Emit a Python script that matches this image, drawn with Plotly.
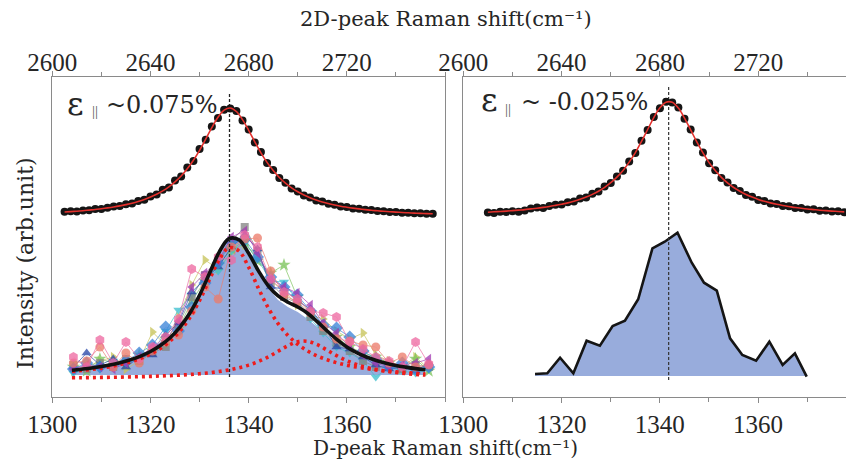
import plotly.graph_objects as go

# ---------------- 2D-peak spectra (top axes) ----------------
x2d_left = [2605, 2607.5, 2610, 2612.5, 2615, 2617.5, 2620, 2622.5, 2625, 2627.5,
            2630, 2632.5, 2635, 2637.5, 2640, 2642.5, 2645, 2647.5, 2650, 2652.5,
            2655, 2657.5, 2660, 2662.5, 2665, 2667.5, 2670, 2672.5, 2675, 2677.5,
            2680, 2682.5, 2685, 2687.5, 2690, 2692.5, 2695, 2697.5, 2700, 2702.5,
            2705, 2707.5, 2710, 2712.5, 2715, 2717.5, 2720, 2722.5, 2725, 2727.5,
            2730, 2732.5, 2735, 2737.5, 2740, 2742.5, 2745, 2747.5, 2750, 2752.5, 2755]
fit2d_left = [1.850, 1.854, 1.858, 1.863, 1.869, 1.875, 1.883, 1.891, 1.900, 1.911,
              1.924, 1.938, 1.955, 1.975, 1.999, 2.027, 2.061, 2.101, 2.151, 2.210,
              2.282, 2.368, 2.467, 2.579, 2.694, 2.797, 2.868, 2.890, 2.855, 2.774,
              2.667, 2.552, 2.442, 2.346, 2.264, 2.195, 2.138, 2.091, 2.052, 2.020,
              1.993, 1.970, 1.951, 1.935, 1.920, 1.908, 1.898, 1.889, 1.881, 1.874,
              1.867, 1.862, 1.857, 1.853, 1.849, 1.845, 1.842, 1.839, 1.836, 1.834, 1.832]
dots2d_left = [1.852, 1.858, 1.855, 1.866, 1.868, 1.879, 1.881, 1.893, 1.904, 1.909,
               1.928, 1.936, 1.960, 1.972, 2.006, 2.024, 2.072, 2.095, 2.165, 2.204,
               2.296, 2.360, 2.480, 2.572, 2.705, 2.790, 2.872, 2.885, 2.860, 2.766,
               2.675, 2.545, 2.450, 2.340, 2.270, 2.190, 2.142, 2.086, 2.056, 2.016,
               1.996, 1.966, 1.954, 1.932, 1.922, 1.905, 1.900, 1.886, 1.883, 1.872,
               1.869, 1.860, 1.858, 1.851, 1.850, 1.843, 1.843, 1.837, 1.837, 1.832, 1.833]

x2d_right = [2610, 2612.5, 2615, 2617.5, 2620, 2622.5, 2625, 2627.5, 2630, 2632.5,
             2635, 2637.5, 2640, 2642.5, 2645, 2647.5, 2650, 2652.5, 2655, 2657.5,
             2660, 2662.5, 2665, 2667.5, 2670, 2672.5, 2675, 2677.5, 2680, 2682.5,
             2685, 2687.5, 2690, 2692.5, 2695, 2697.5, 2700, 2702.5, 2705, 2707.5,
             2710, 2712.5, 2715, 2717.5, 2720, 2722.5, 2725, 2727.5, 2730, 2732.5,
             2735, 2737.5, 2740, 2742.5, 2745, 2747.5, 2750, 2752.5, 2755]
fit2d_right = [1.848, 1.852, 1.855, 1.859, 1.864, 1.869, 1.874, 1.881, 1.888, 1.896,
               1.905, 1.916, 1.928, 1.941, 1.958, 1.977, 1.999, 2.026, 2.058, 2.097,
               2.143, 2.199, 2.266, 2.349, 2.444, 2.556, 2.675, 2.794, 2.892, 2.948,
               2.947, 2.889, 2.789, 2.671, 2.551, 2.441, 2.344, 2.264, 2.196, 2.141,
               2.095, 2.057, 2.025, 1.999, 1.976, 1.957, 1.941, 1.927, 1.915, 1.905,
               1.895, 1.887, 1.880, 1.874, 1.868, 1.864, 1.859, 1.855, 1.851]
dots2d_right = [1.846, 1.840, 1.852, 1.850, 1.857, 1.852, 1.866, 1.885, 1.894, 1.890,
                1.910, 1.922, 1.925, 1.948, 1.955, 1.984, 1.995, 2.032, 2.055, 2.104,
                2.140, 2.206, 2.262, 2.356, 2.440, 2.562, 2.670, 2.800, 2.888, 2.952,
                2.945, 2.895, 2.783, 2.676, 2.545, 2.446, 2.338, 2.268, 2.190, 2.145,
                2.090, 2.060, 2.020, 2.003, 1.970, 1.960, 1.936, 1.930, 1.910, 1.908,
                1.890, 1.890, 1.876, 1.877, 1.863, 1.866, 1.855, 1.857, 1.848]

# ---------------- D-peak, left panel ----------------
D_grid = [1304, 1306, 1308, 1310, 1312, 1314, 1316, 1318, 1320, 1322, 1324, 1326, 1328,
          1330, 1332, 1334, 1336, 1338, 1340, 1342, 1344, 1346, 1348, 1350, 1352, 1354,
          1356, 1358, 1360, 1362, 1364, 1366, 1368, 1370, 1372, 1374, 1376]
D_fit_total = [0.267, 0.278, 0.290, 0.305, 0.323, 0.346, 0.374, 0.409, 0.455, 0.515, 0.593,
               0.699, 0.837, 1.018, 1.234, 1.449, 1.584, 1.573, 1.437, 1.261, 1.112, 1.011,
               0.948, 0.900, 0.838, 0.753, 0.660, 0.574, 0.501, 0.444, 0.400, 0.365, 0.338,
               0.316, 0.299, 0.284, 0.272]
D_comp1 = [0.255, 0.265, 0.276, 0.289, 0.306, 0.327, 0.353, 0.386, 0.429, 0.485, 0.559,
           0.660, 0.792, 0.965, 1.172, 1.374, 1.493, 1.461, 1.298, 1.086, 0.891, 0.734,
           0.616, 0.527, 0.461, 0.410, 0.372, 0.342, 0.318, 0.299, 0.284, 0.271, 0.261,
           0.252, 0.244, 0.238, 0.232]
D_comp2 = [0.192, 0.193, 0.194, 0.196, 0.197, 0.199, 0.201, 0.203, 0.206, 0.210, 0.214,
           0.219, 0.225, 0.233, 0.242, 0.255, 0.271, 0.292, 0.319, 0.355, 0.401, 0.457,
           0.513, 0.553, 0.557, 0.523, 0.468, 0.412, 0.363, 0.325, 0.296, 0.274, 0.258,
           0.245, 0.234, 0.226, 0.220]
D_mean_left = [0.267, 0.278, 0.290, 0.305, 0.323, 0.346, 0.374, 0.409, 0.455, 0.515, 0.593,
               0.699, 0.837, 1.018, 1.234, 1.449, 1.584, 1.573, 1.437, 1.261, 1.090, 0.970,
               0.900, 0.850, 0.780, 0.700, 0.620, 0.540, 0.470, 0.420, 0.380, 0.350, 0.330,
               0.310, 0.290, 0.280, 0.270]
fill_base_left = 0.22

D_pts = [1304.3, 1307.0, 1309.7, 1312.4, 1315.0, 1317.7, 1320.4, 1323.1, 1325.7, 1328.4,
         1331.1, 1333.8, 1336.5, 1339.2, 1341.8, 1344.5, 1347.2, 1349.9, 1352.6, 1355.2,
         1357.9, 1360.6, 1363.3, 1365.9, 1368.6, 1371.3, 1374.0, 1376.7]
map_pink = [0.40, 0.30, 0.57, 0.34, 0.55, 0.38, 0.50, 0.60, 0.78, 1.28, 1.20, 1.40, 1.37, 1.62,
            1.50, 1.18, 1.05, 0.98, 0.86, 0.84, 0.80, 0.55, 0.48, 0.40, 0.36, 0.30, 0.55, 0.33]
map_salmon = [0.34, 0.36, 0.50, 0.30, 0.44, 0.34, 0.46, 0.55, 0.62, 0.86, 1.10, 0.98, 1.50, 1.58,
              1.59, 1.26, 1.02, 0.95, 0.84, 0.70, 0.58, 0.56, 0.52, 0.50, 0.34, 0.40, 0.30, 0.32]
map_navy = [0.30, 0.44, 0.32, 0.38, 0.30, 0.40, 0.42, 0.62, 0.74, 1.05, 1.18, 1.30, 1.50, 1.62,
            1.48, 1.10, 1.08, 0.96, 0.88, 0.72, 0.50, 0.48, 0.40, 0.32, 0.28, 0.30, 0.26, 0.34]
map_olive = [0.26, 0.30, 0.36, 0.40, 0.28, 0.36, 0.65, 0.52, 0.80, 1.12, 1.37, 1.28, 1.45, 1.52,
             1.42, 1.16, 1.06, 0.92, 0.82, 0.78, 0.66, 0.58, 0.64, 0.42, 0.36, 0.30, 0.40, 0.28]
map_blue = [0.28, 0.34, 0.30, 0.32, 0.36, 0.44, 0.52, 0.70, 0.66, 0.90, 1.14, 1.34, 1.55, 1.58,
            1.40, 1.20, 1.10, 1.02, 0.86, 0.72, 0.69, 0.60, 0.46, 0.38, 0.30, 0.34, 0.28, 0.30]
map_gray = [0.32, 0.28, 0.34, 0.30, 0.38, 0.36, 0.44, 0.50, 0.72, 1.00, 1.22, 1.36, 1.56, 1.70,
            1.46, 1.14, 1.00, 0.94, 0.80, 0.66, 0.54, 0.46, 0.36, 0.30, 0.30, 0.28, 0.32, 0.30]
map_green = [0.30, 0.26, 0.38, 0.34, 0.32, 0.42, 0.46, 0.58, 0.68, 0.96, 1.16, 1.32, 1.48, 1.56,
             1.36, 1.24, 1.32, 1.00, 0.84, 0.68, 0.60, 0.50, 0.44, 0.40, 0.34, 0.28, 0.38, 0.26]
map_cyan = [0.24, 0.30, 0.28, 0.36, 0.34, 0.38, 0.44, 0.66, 0.87, 1.02, 1.20, 1.26, 1.46, 1.54,
            1.38, 1.16, 1.15, 0.96, 0.78, 0.64, 0.50, 0.44, 0.36, 0.20, 0.30, 0.26, 0.24, 0.28]
map_purple = [0.28, 0.32, 0.30, 0.28, 0.34, 0.40, 0.50, 0.56, 0.76, 1.10, 1.24, 1.36, 1.60, 1.66,
              1.44, 1.18, 1.10, 1.04, 0.92, 0.74, 0.64, 0.50, 0.42, 0.34, 0.30, 0.32, 0.34, 0.38]

peak_D_left = 1336.1
peak_line_left = [0.20, 3.04]

# ---------------- D-peak, right panel ----------------
D_right = [1314.6, 1317.1, 1319.7, 1322.4, 1325.1, 1327.8, 1330.4, 1332.9, 1335.6, 1338.5, 1341.0,
           1343.6, 1346.5, 1349.0, 1351.6, 1354.3, 1356.8, 1359.6, 1362.3, 1365.0, 1367.5, 1369.9]
I_right = [0.230, 0.237, 0.393, 0.237, 0.563, 0.513, 0.710, 0.763, 0.977, 1.487, 1.553,
           1.643, 1.343, 1.143, 1.063, 0.587, 0.420, 0.363, 0.553, 0.320, 0.437, 0.203]
fill_base_right = 0.21
peak_D_right = 1341.8
peak_line_right = [0.17, 3.10]

# ---------------- styles ----------------
SERIF = "Liberation Serif"
SERIF2 = "DejaVu Serif"
TXT = "#262626"
AXC = "#8a8a8a"
FILLC = "rgba(143,165,217,0.92)"
series = [
    (map_olive, "#c8c45a", "triangle-right", 9),
    (map_green, "#7cc45c", "star", 10),
    (map_cyan, "#3ec0cf", "triangle-down", 9),
    (map_gray, "#858585", "square", 8),
    (map_navy, "#2a48a8", "triangle-up", 9),
    (map_blue, "#3b84d8", "diamond", 10),
    (map_purple, "#a43cb2", "triangle-left", 9),
    (map_salmon, "#ec7c6c", "circle", 9),
    (map_pink, "#ee6aa2", "hexagon", 10),
]

fig = go.Figure()

# left panel blue fill
fig.add_trace(go.Scatter(x=D_grid, y=[fill_base_left] * len(D_grid), mode="lines",
                         line=dict(width=0), xaxis="x", yaxis="y", hoverinfo="skip"))
fig.add_trace(go.Scatter(x=D_grid, y=D_mean_left, mode="lines", fill="tonexty",
                         fillcolor=FILLC, line=dict(width=0), xaxis="x", yaxis="y"))

# mapping spectra
for vals, col, sym, sz in series:
    fig.add_trace(go.Scatter(x=D_pts, y=vals, mode="lines+markers",
                             line=dict(color=col, width=0.8),
                             marker=dict(symbol=sym, size=sz, color=col, opacity=0.9),
                             opacity=0.85, xaxis="x", yaxis="y"))

# Lorentzian components
for comp in (D_comp1, D_comp2):
    fig.add_trace(go.Scatter(x=D_grid, y=comp, mode="lines", line_shape="spline",
                             line=dict(color="#ee1c1c", width=3.6, dash="3px,4px"),
                             xaxis="x", yaxis="y"))
# total fit
fig.add_trace(go.Scatter(x=D_grid, y=D_fit_total, mode="lines", line_shape="spline",
                         line=dict(color="#111111", width=3.6), xaxis="x", yaxis="y"))
# dashed peak line left
fig.add_trace(go.Scatter(x=[peak_D_left, peak_D_left], y=peak_line_left, mode="lines",
                         line=dict(color="#222222", width=1.3, dash="3px,2px"),
                         xaxis="x", yaxis="y"))

# 2D left
fig.add_trace(go.Scatter(x=x2d_left, y=dots2d_left, mode="markers",
                         marker=dict(color="#151515", size=8), xaxis="x3", yaxis="y"))
fig.add_trace(go.Scatter(x=x2d_left, y=fit2d_left, mode="lines", line_shape="spline",
                         line=dict(color="#e3302c", width=1.6), xaxis="x3", yaxis="y"))

# right panel fill
fig.add_trace(go.Scatter(x=D_right, y=[fill_base_right] * len(D_right), mode="lines",
                         line=dict(width=0), xaxis="x2", yaxis="y2", hoverinfo="skip"))
fig.add_trace(go.Scatter(x=D_right, y=I_right, mode="lines", fill="tonexty",
                         fillcolor=FILLC, line=dict(color="#151515", width=2.6),
                         xaxis="x2", yaxis="y2"))
fig.add_trace(go.Scatter(x=[peak_D_right, peak_D_right], y=peak_line_right, mode="lines",
                         line=dict(color="#333333", width=1.2, dash="3px,2px"),
                         xaxis="x2", yaxis="y2"))
# 2D right
fig.add_trace(go.Scatter(x=x2d_right, y=dots2d_right, mode="markers",
                         marker=dict(color="#151515", size=8), xaxis="x4", yaxis="y2"))
fig.add_trace(go.Scatter(x=x2d_right, y=fit2d_right, mode="lines", line_shape="spline",
                         line=dict(color="#e3302c", width=1.6), xaxis="x4", yaxis="y2"))

W, H = 846, 461
ydom = [1 - 397 / H, 1 - 77 / H]
xdomL = [52.3 / W, 445 / W]
xdomR = [463.3 / W, 1.0]
tickfont = dict(family=SERIF, size=25, color=TXT)

def xax(domain, rng, vals, minor_vals, side, anchor, overlay=None, standoff=0):
    d = dict(range=rng, tickmode="array", tickvals=vals,
             ticktext=[str(v) for v in vals], side=side, anchor=anchor,
             showline=True, linecolor=AXC, linewidth=1.4, ticks="outside",
             ticklen=5, tickwidth=1.2, tickcolor=AXC, showgrid=False, zeroline=False,
             tickfont=tickfont, automargin=False, ticklabelstandoff=standoff,
             minor=dict(tickvals=minor_vals, ticks="outside", ticklen=4, tickcolor=AXC,
                        tickwidth=1.1, showgrid=False))
    if overlay:
        d["overlaying"] = overlay
    else:
        d["domain"] = domain
    return d

fig.update_layout(
    width=W, height=H, margin=dict(l=0, r=0, t=0, b=0, pad=0),
    paper_bgcolor="white", plot_bgcolor="white", showlegend=False,
    xaxis=xax(xdomL, [1300, 1380], [1300, 1320, 1340, 1360], [1310, 1330, 1350, 1370, 1380],
              "bottom", "y"),
    xaxis3=xax(None, [2600, 2760], [2600, 2640, 2680, 2720], [2620, 2660, 2700, 2740, 2760],
               "top", "y", overlay="x", standoff=-10),
    xaxis2=xax(xdomR, [1300, 1377.9], [1300, 1320, 1340, 1360], [1310, 1330, 1350, 1370],
               "bottom", "y2"),
    xaxis4=xax(None, [2600, 2755.7], [2600, 2640, 2680, 2720], [2620, 2660, 2700, 2740],
               "top", "y2", overlay="x2", standoff=-10),
    yaxis=dict(domain=ydom, range=[0, 3.2], anchor="x", showticklabels=False, ticks="",
               showline=True, mirror=True, linecolor=AXC, linewidth=1.4, automargin=False,
               showgrid=False, zeroline=False),
    yaxis2=dict(domain=ydom, range=[0, 3.2], anchor="x2", showticklabels=False, ticks="",
                showline=True, linecolor=AXC, linewidth=1.4, showgrid=False, zeroline=False,
                automargin=False),
)

annots = [
    dict(text="D-peak Raman shift(cm⁻¹)", x=445 / W, y=1 - 448 / H,
         font=dict(family=SERIF2, size=20, color=TXT)),
    dict(text="2D-peak Raman shift(cm⁻¹)", x=446 / W, y=1 - 19 / H,
         font=dict(family=SERIF2, size=21, color=TXT)),
    dict(text="Intensity (arb.unit)", x=25 / W, y=1 - 263 / H, textangle=-90,
         font=dict(family=SERIF2, size=22, color=TXT)),
    # left strain label
    dict(text="ε", x=75 / W, y=1 - 104 / H, font=dict(family=SERIF2, size=32, color=TXT)),
    dict(text="||", x=95 / W, y=1 - 111 / H, font=dict(family=SERIF, size=15, color="#555555")),
    dict(text="~0.075%", x=104 / W, y=1 - 105 / H, xanchor="left",
         font=dict(family=SERIF2, size=24, color=TXT)),
    # right strain label
    dict(text="ε", x=489 / W, y=1 - 100 / H, font=dict(family=SERIF2, size=32, color=TXT)),
    dict(text="||", x=508 / W, y=1 - 109 / H, font=dict(family=SERIF, size=15, color="#555555")),
    dict(text="~ -0.025%", x=519 / W, y=1 - 102 / H, xanchor="left",
         font=dict(family=SERIF2, size=24, color=TXT)),
]
for a in annots:
    a.setdefault("xanchor", "center")
    fig.add_annotation(xref="paper", yref="paper", showarrow=False, yanchor="middle", **a)

fig.write_html("out.html")
